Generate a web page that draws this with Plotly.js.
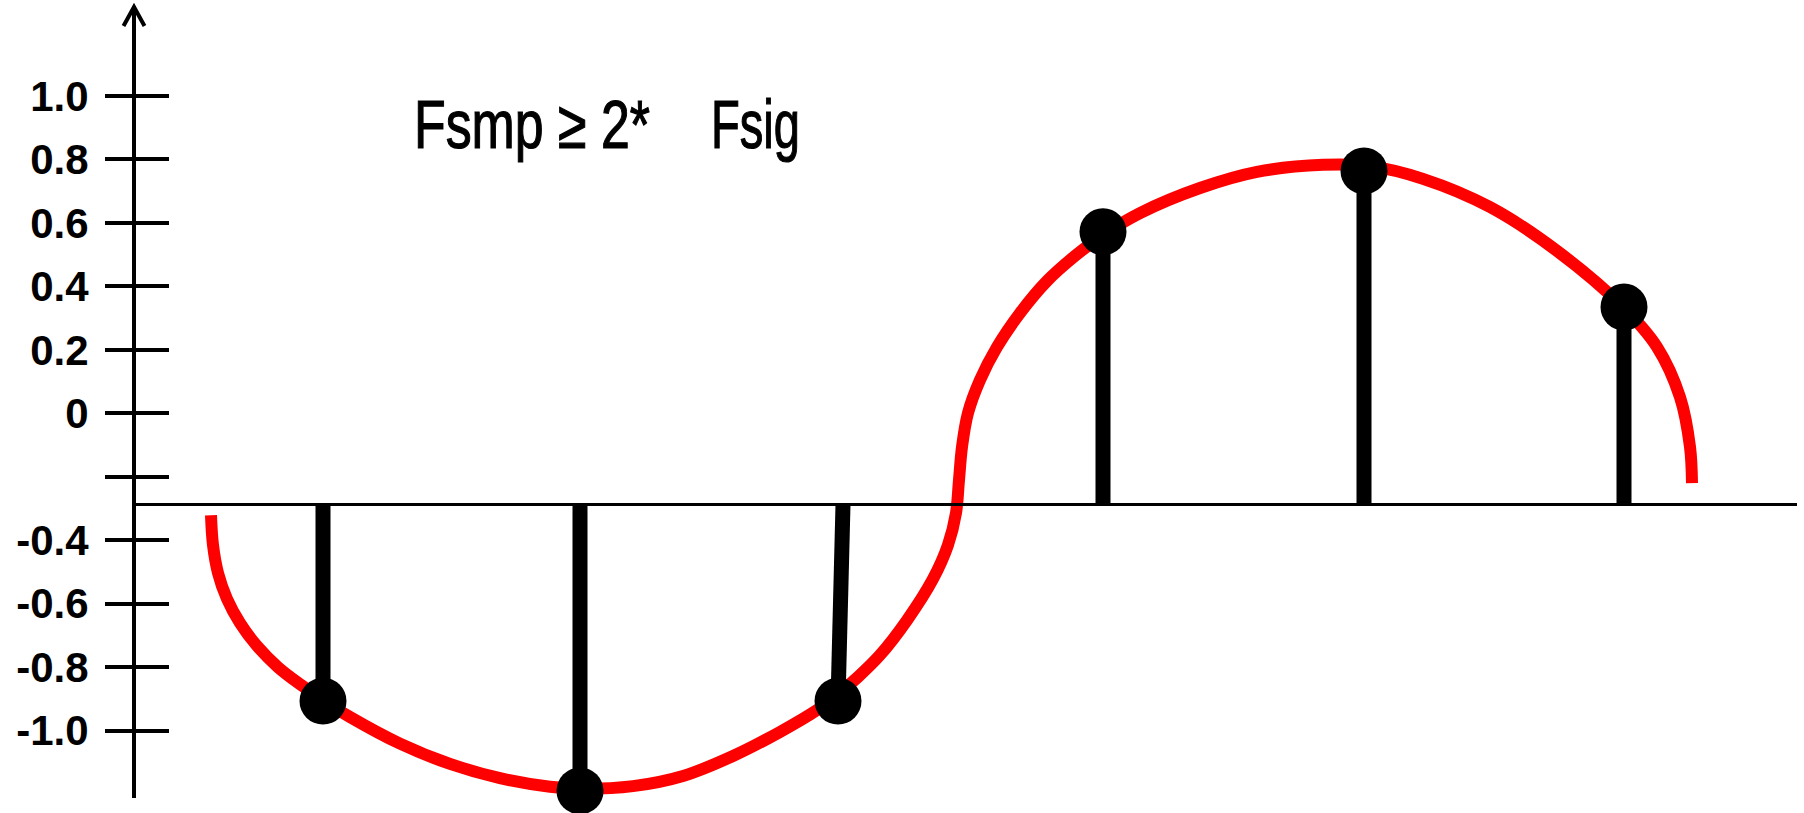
<!DOCTYPE html>
<html>
<head>
<meta charset="utf-8">
<script src="https://cdn.plot.ly/plotly-3.0.1.min.js"></script>
<style>
html,body{margin:0;padding:0;background:#fff;}
#chart{width:1804px;height:813px;}
</style>
</head>
<body>
<div id="chart"></div>
<script>
// ---- data (x in time units, y in the labelled amplitude units) ----
const signalX = [0.75, 0.77, 0.82, 0.91, 1.04, 1.21, 1.42, 1.65, 1.87, 2.14, 2.64, 3.14, 3.64, 4.14, 4.44, 4.97, 5.47, 5.97, 6.44, 6.81, 7.02, 7.22, 7.44, 7.71, 7.97, 8.12, 8.20, 8.23, 8.26, 8.32, 8.44, 8.61, 8.84, 9.11, 9.39, 9.67, 10.04, 10.64, 11.21, 11.87, 12.34, 12.87, 13.54, 14.21, 14.87, 15.21, 15.44, 15.54, 15.56];
const signalY = [-0.321, -0.415, -0.503, -0.585, -0.661, -0.733, -0.800, -0.856, -0.904, -0.957, -1.041, -1.105, -1.150, -1.177, -1.183, -1.175, -1.143, -1.080, -1.004, -0.935, -0.885, -0.831, -0.762, -0.652, -0.522, -0.415, -0.314, -0.210, -0.106, 0.001, 0.105, 0.209, 0.316, 0.417, 0.496, 0.562, 0.631, 0.710, 0.761, 0.783, 0.779, 0.739, 0.650, 0.512, 0.335, 0.209, 0.051, -0.106, -0.220];

const sampleX  = [1.87, 4.44, 7.02, 9.67, 12.28, 14.88];
const stemTopX = [1.87, 4.44, 7.07, 9.67, 12.28, 14.88];
const sampleY  = [-0.907, -1.190, -0.907, 0.572, 0.764, 0.335];
const baseLineY = -0.287;

const tickVals = [1.0, 0.8, 0.6, 0.4, 0.2, 0, -0.2, -0.4, -0.6, -0.8, -1.0];
const tickText = ['1.0', '0.8', '0.6', '0.4', '0.2', '0', '', '-0.4', '-0.6', '-0.8', '-1.0'];

const titleLeft = 'Fsmp \u2265 2*';
const titleRight = 'Fsig';

// ---- build ----
const stemX = [], stemY = [];
for (let i = 0; i < sampleX.length; i++) {
  stemX.push(stemTopX[i], sampleX[i], null);
  stemY.push(baseLineY, sampleY[i], null);
}

const yRange = [-1.2124, 1.2837];
const xRange = [0, 16.68];

const traces = [
  {type: 'scatter', mode: 'lines', x: signalX, y: signalY,
   line: {color: '#ff0000', width: 12, shape: 'spline', smoothing: 1},
   hoverinfo: 'skip', showlegend: false},
  {type: 'scatter', mode: 'lines', x: stemX, y: stemY,
   line: {color: '#000000', width: 15}, connectgaps: false,
   hoverinfo: 'skip', showlegend: false},
  {type: 'scatter', mode: 'markers', x: sampleX, y: sampleY, yaxis: 'y2',
   marker: {color: '#000000', size: 47, line: {width: 0}},
   cliponaxis: false, hoverinfo: 'skip', showlegend: false}
];

const titleFont = {family: 'Liberation Sans, Arial, sans-serif', size: 68, color: '#000'};
const titleY = (798 - 124) / 792;

const layout = {
  width: 1804, height: 813,
  margin: {l: 136, r: 0, t: 6, b: 15, pad: 0},
  paper_bgcolor: '#ffffff', plot_bgcolor: '#ffffff',
  showlegend: false,
  xaxis: {range: xRange, visible: false, fixedrange: true},
  yaxis: {
    range: yRange, tickmode: 'array', tickvals: tickVals, ticktext: tickText,
    ticks: 'outside', ticklen: 27, tickwidth: 4, tickcolor: '#000',
    showline: true, linewidth: 4, linecolor: '#000',
    showgrid: false, zeroline: false, ticklabelstandoff: 8,
    tickfont: {family: 'Liberation Sans, Arial, sans-serif', size: 42, color: '#000', weight: 'bold'},
    fixedrange: true
  },
  yaxis2: {
    range: yRange, overlaying: 'y', side: 'left', anchor: 'x',
    tickmode: 'array', tickvals: tickVals,
    ticks: 'inside', ticklen: 33, tickwidth: 4, tickcolor: '#000',
    showticklabels: false, showline: false, showgrid: false, zeroline: false,
    fixedrange: true
  },
  shapes: [
    {type: 'line', xref: 'x', yref: 'y', x0: xRange[0], x1: 16.61, y0: baseLineY, y1: baseLineY,
     line: {color: '#000', width: 3}, layer: 'above'},
    {type: 'path', xref: 'paper', yref: 'paper', xsizemode: 'pixel', ysizemode: 'pixel',
     xanchor: 0, yanchor: 1, path: 'M-12.5,-20 L-2,-1 L8.5,-20',
     line: {color: '#000', width: 4}, layer: 'above'}
  ],
  annotations: [
    {xref: 'paper', yref: 'paper', x: (412 - 136) / 1668, y: titleY,
     xanchor: 'left', yanchor: 'middle', align: 'left', showarrow: false, text: titleLeft,
     font: titleFont},
    {xref: 'paper', yref: 'paper', x: (709 - 136) / 1668, y: titleY,
     xanchor: 'left', yanchor: 'middle', align: 'left', showarrow: false, text: titleRight,
     font: titleFont}
  ]
};

Plotly.newPlot('chart', traces, layout, {staticPlot: true, displayModeBar: false}).then(function () {
  const lens = [236, 89];
  const texts = document.querySelectorAll('#chart .annotation-text');
  texts.forEach(function (t, i) {
    if (lens[i]) {
      t.setAttribute('textLength', lens[i]);
      t.setAttribute('lengthAdjust', 'spacingAndGlyphs');
      t.style.stroke = '#000';
      t.style.strokeWidth = '1.2px';
    }
  });
});
</script>
</body>
</html>
